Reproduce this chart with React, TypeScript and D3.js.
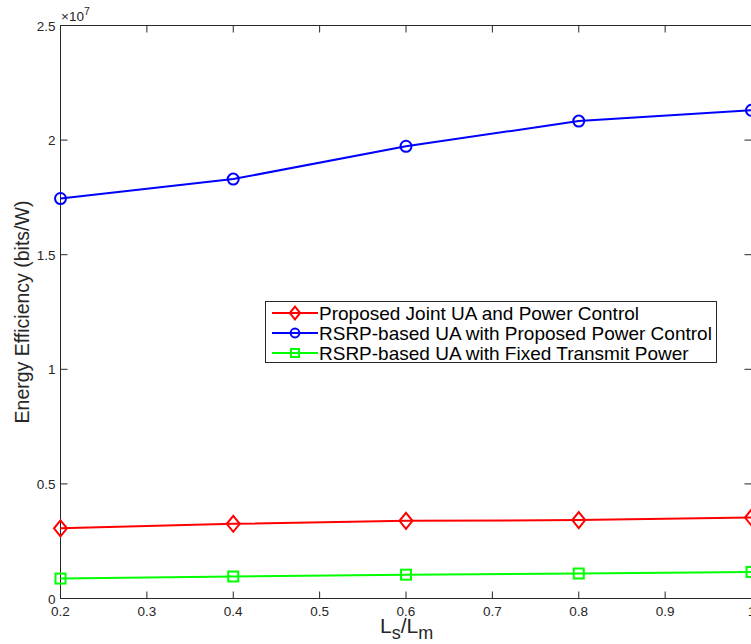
import React from "react";
import * as d3 from "d3";

const xValues = [0.2, 0.4, 0.6, 0.8, 1.0];
const proposed = [0.306, 0.326, 0.339, 0.342, 0.353];
const rsrpProposed = [1.745, 1.83, 1.973, 2.083, 2.13];
const rsrpFixed = [0.087, 0.096, 0.104, 0.109, 0.116];
const xTicks = [0.2, 0.3, 0.4, 0.5, 0.6, 0.7, 0.8, 0.9, 1];
const yTicks = [0, 0.5, 1, 1.5, 2, 2.5];
const legendLabels = [
  "Proposed Joint UA and Power Control",
  "RSRP-based UA with Proposed Power Control",
  "RSRP-based UA with Fixed Transmit Power",
];

const W = 751, H = 644;
const L = 60.5, R = 751.5, T = 25.5, B = 598.5;
const FONT = "Helvetica, Arial, 'Liberation Sans', sans-serif";

export default function App() {
  const x = d3.scaleLinear().domain([0.2, 1]).range([L, R]);
  const y = d3.scaleLinear().domain([0, 2.5]).range([B, T]);
  const line = d3.line<number>().x((_, i) => x(xValues[i])).y((v) => y(v));
  const series = [
    { data: proposed, color: "#ff0000", marker: "diamond" },
    { data: rsrpProposed, color: "#0000ff", marker: "circle" },
    { data: rsrpFixed, color: "#00ff00", marker: "square" },
  ];
  const marker = (m: string, cx: number, cy: number, color: string, k: string, s = 1) => {
    if (m === "diamond") {
      const r = 8 * s, w = 6.5 * s;
      return <path key={k} d={`M${cx},${cy - r}L${cx + w},${cy}L${cx},${cy + r}L${cx - w},${cy}Z`} fill="none" stroke={color} strokeWidth={2} />;
    }
    if (m === "circle") return <circle key={k} cx={cx} cy={cy} r={5.5 * s} fill="none" stroke={color} strokeWidth={2} />;
    const h = 5 * s;
    return <rect key={k} x={cx - h} y={cy - h} width={2 * h} height={2 * h} fill="none" stroke={color} strokeWidth={2} />;
  };
  const axisColor = "#262626";
  return (
    <svg width={W} height={H} style={{ position: "absolute", left: 0, top: 0, background: "#fff" }} fontFamily={FONT}>
      <rect x={0} y={0} width={W} height={H} fill="#fff" />
      {/* ticks */}
      {xTicks.map((t) => (
        <g key={"xt" + t}>
          <line x1={x(t)} x2={x(t)} y1={B} y2={B - 7} stroke={axisColor} />
          <line x1={x(t)} x2={x(t)} y1={T} y2={T + 7} stroke={axisColor} />
          <text x={x(t)} y={B + 17} textAnchor="middle" fontSize={13.5} fill={axisColor}>{String(t)}</text>
        </g>
      ))}
      {yTicks.map((t) => (
        <g key={"yt" + t}>
          <line x1={L} x2={L + 7} y1={y(t)} y2={y(t)} stroke={axisColor} />
          <line x1={R} x2={R - 7} y1={y(t)} y2={y(t)} stroke={axisColor} />
          <text x={L - 5} y={y(t) + 5} textAnchor="end" fontSize={13.5} fill={axisColor}>{String(t)}</text>
        </g>
      ))}
      <rect x={L} y={T} width={R - L} height={B - T} fill="none" stroke={axisColor} strokeWidth={1} />
      <text x={61} y={21} fontSize={13.5} fill={axisColor}>×10<tspan dy={-6} fontSize={10.5}>7</tspan></text>
      {/* series */}
      {series.map((s, si) => (
        <g key={"s" + si}>
          <path d={line(s.data) || ""} fill="none" stroke={s.color} strokeWidth={2} />
          {s.data.map((v, i) => marker(s.marker, x(xValues[i]), y(v), s.color, `m${si}-${i}`))}
        </g>
      ))}
      {/* legend */}
      <rect x={265.5} y={301.5} width={451} height={61} fill="#fff" stroke={axisColor} />
      {legendLabels.map((lab, i) => {
        const ly = 313 + i * 20;
        return (
          <g key={"lg" + i}>
            <line x1={272} x2={318} y1={ly} y2={ly} stroke={series[i].color} strokeWidth={2} />
            {marker(series[i].marker, 295, ly, series[i].color, "lm" + i, 0.8)}
            <text x={319} y={ly + 6.5} fontSize={19} fill="#000">{lab}</text>
          </g>
        );
      })}
      {/* axis labels */}
      <text transform="translate(29,312) rotate(-90)" textAnchor="middle" fontSize={19.5} fill={axisColor}>Energy Efficiency (bits/W)</text>
      <text x={380} y={633} fontSize={21} fill={axisColor}>L<tspan dy={6} fontSize={18}>s</tspan><tspan dy={-6}>/L</tspan><tspan dy={6} fontSize={18}>m</tspan></text>
    </svg>
  );
}
